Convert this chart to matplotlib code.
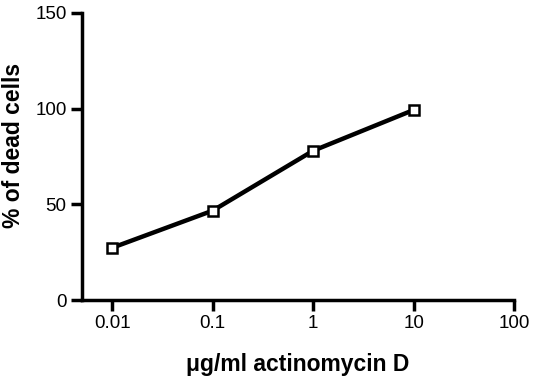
import matplotlib
matplotlib.use("Agg")
import matplotlib.pyplot as plt

plt.rcParams['font.family'] = ['Liberation Sans', 'DejaVu Sans']

dose = [0.01, 0.1, 1, 10]
dead_cells = [27.3, 46.7, 78.0, 99.3]
x_ticks = [0.01, 0.1, 1, 10, 100]
x_tick_labels = ["0.01", "0.1", "1", "10", "100"]
y_ticks = [0, 50, 100, 150]

fig = plt.figure(figsize=(5.33, 3.8), dpi=100)
ax = fig.add_axes([0.1538, 0.2105, 0.8106, 0.7553])

ax.plot(dose, dead_cells, color="black", linewidth=3.2, marker="s", markersize=7.5,
        markerfacecolor="white", markeredgecolor="black", markeredgewidth=1.8, clip_on=False)

ax.set_xscale("log")
ax.set_xlim(0.005, 100)
ax.set_ylim(0, 150)
ax.set_xticks(x_ticks)
ax.set_xticklabels(x_tick_labels)
ax.minorticks_off()
ax.set_yticks(y_ticks)

for s in ["top", "right"]:
    ax.spines[s].set_visible(False)
for s in ["left", "bottom"]:
    ax.spines[s].set_linewidth(2.5)
ax.tick_params(direction="out", length=8, width=2.5, labelsize=13.5, pad=3)

ax.set_xlabel("μg/ml actinomycin D", fontsize=16.5, fontweight="bold", labelpad=15)
ax.set_ylabel("% of dead cells", fontsize=16.5, fontweight="bold")
ax.yaxis.set_label_coords(-0.132, 0.54)

fig.savefig("out.png", dpi=100)
